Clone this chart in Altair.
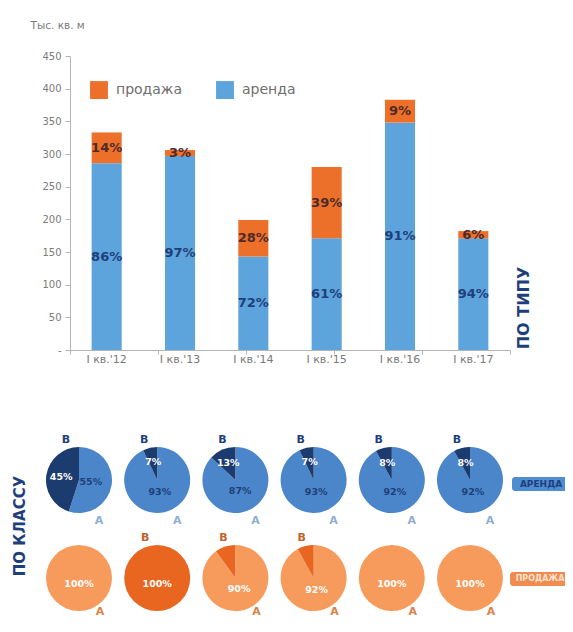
import math
import altair as alt
import pandas as pd

# ---------------- data ----------------
categories = ["I кв.'12", "I кв.'13", "I кв.'14", "I кв.'15", "I кв.'16", "I кв.'17"]
rent = [286, 297, 143, 171, 348, 171]          # тыс. кв. м, аренда
sale = [47, 9, 56, 109, 35, 11]                # тыс. кв. м, продажа
rent_pct = [86, 97, 72, 61, 91, 94]
sale_pct = [14, 3, 28, 39, 9, 6]

class_b_rent = [45, 7, 13, 7, 8, 8]            # доля класса В, аренда
class_b_sale = [0, 100, 10, 8, 0, 0]           # доля класса В, продажа

y_ticks = [0, 50, 100, 150, 200, 250, 300, 350, 400, 450]

FONT = "DejaVu Sans"
NAVY = "#1f3f7a"
GRAY = "#7a7a7a"
AXIS = "#b5b5b5"

# ---------------- tables ----------------
bar_rows = []
for i, c in enumerate(categories):
    bar_rows.append({"cat": c, "series": "аренда", "value": rent[i], "pct": f"{rent_pct[i]}%", "ord": 0})
    bar_rows.append({"cat": c, "series": "продажа", "value": sale[i], "pct": f"{sale_pct[i]}%", "ord": 1})
bars_df = pd.DataFrame(bar_rows)

pie_rows = []
for i in range(len(categories)):
    for r, (rname, bvals) in enumerate([("rent", class_b_rent), ("sale", class_b_sale)]):
        b = bvals[i]
        a = 100 - b
        if a > 0:
            pie_rows.append({"col": i, "row": r, "kind": rname, "cls": "А", "key": f"{rname}-A",
                             "pct": a, "start": 0, "end": a, "mid": a / 2, "lbl": f"{a}%"})
        if b > 0:
            pie_rows.append({"col": i, "row": r, "kind": rname, "cls": "В", "key": f"{rname}-B",
                             "pct": b, "start": a, "end": 100, "mid": a + b / 2, "lbl": f"{b}%"})
pie_df = pd.DataFrame(pie_rows)

# ---------------- top: stacked bars ----------------
base = alt.Chart(bars_df).transform_stack(
    stack="value", as_=["y0", "y1"], groupby=["cat"],
    sort=[alt.SortField("ord", order="ascending")]
).transform_calculate(mid="(datum.y0 + datum.y1) / 2")

xenc = alt.X("cat:N", sort=categories,
             scale=alt.Scale(paddingInner=0.59, paddingOuter=0.295),
             axis=alt.Axis(title=None, labelAngle=0, labelFontSize=11, labelColor=GRAY,
                           labelFont=FONT, domainColor=AXIS, ticks=False, labelPadding=3))

yscale = alt.Scale(domain=[0, 450], nice=False)
yaxis = alt.Axis(values=y_ticks, tickCount=10, grid=False, labelFontSize=10, labelColor=GRAY,
                 labelFont=FONT, domainColor=AXIS, tickColor=AXIS,
                 tickSize=5, labelPadding=4, labelOverlap=False,
                 labelExpr="datum.value == 0 ? '-' : datum.label",
                 title="Тыс. кв. м", titleAngle=0, titleAlign="left",
                 titleBaseline="middle", titleX=-40, titleY=-31,
                 titleFontSize=10.5, titleFontWeight="normal",
                 titleColor=GRAY, titleFont=FONT)

bars = base.mark_bar().encode(
    x=xenc,
    y=alt.Y("y0:Q", scale=yscale, axis=yaxis),
    y2="y1:Q",
    color=alt.Color("series:N",
                    scale=alt.Scale(domain=["продажа", "аренда"], range=["#ed702a", "#5da3dc"]),
                    legend=alt.Legend(orient="none", legendX=20, legendY=25, direction="horizontal",
                                      title=None, symbolType="square", symbolSize=320,
                                      symbolStrokeWidth=0, labelFontSize=14, labelColor="#6e6e6e",
                                      labelFont=FONT, labelOffset=8, columnPadding=33)),
)

txt_rent = base.transform_filter("datum.series == 'аренда'").mark_text(
    font=FONT, fontSize=13, fontWeight="bold", color=NAVY, baseline="middle"
).encode(x=xenc, y=alt.Y("mid:Q", scale=yscale, axis=yaxis), text="pct:N")

txt_sale = base.transform_filter("datum.series == 'продажа'").mark_text(
    font=FONT, fontSize=13, fontWeight="bold", color="#4e2a2a", baseline="middle"
).encode(x=xenc, y=alt.Y("mid:Q", scale=yscale, axis=yaxis), text="pct:N")

top = alt.layer(bars, txt_rent, txt_sale)

# category-boundary ticks on the x axis
xticks = alt.Chart(bars_df).mark_point(opacity=0).encode(
    x=alt.X("cat:N", sort=categories, scale=alt.Scale(padding=0),
            axis=alt.Axis(orient="bottom", bandPosition=0, labels=False, domain=False,
                          ticks=True, tickSize=4, tickColor=AXIS, title=None, grid=False))
)

# ---------------- bottom: pies ----------------
px = alt.X("col:Q", scale=alt.Scale(domain=[0, 5], range=[9, 400], nice=False, zero=False), axis=None)
py = alt.Y("row:Q", scale=alt.Scale(domain=[0, 1], range=[424, 522], nice=False, zero=False), axis=None)
tscale = alt.Scale(domain=[0, 100], range=[0, 2 * math.pi])

pbase = alt.Chart(pie_df)

arcs = pbase.mark_arc(radius=33).encode(
    x=px, y=py,
    theta=alt.Theta("start:Q", scale=tscale),
    theta2="end:Q",
    color=alt.Color("key:N",
                    scale=alt.Scale(domain=["rent-A", "rent-B", "sale-A", "sale-B"],
                                    range=["#4a86c9", "#1c3b6e", "#f79b5d", "#e8661f"]),
                    legend=None),
)

lbase = pbase.transform_calculate(
    lr="datum.pct >= 100 ? 6 : (datum.pct >= 50 ? 12 : 18)"
)


def pie_labels(flt, color):
    return lbase.transform_filter(flt).mark_text(
        font=FONT, fontSize=9.5, fontWeight="bold", color=color, baseline="middle", align="center"
    ).encode(x=px, y=py, theta=alt.Theta("mid:Q", scale=tscale),
             radius=alt.Radius("lr:Q", scale=None), text="lbl:N")


lbl_rent_b = pie_labels("datum.key == 'rent-B'", "white")
lbl_rent_a = pie_labels("datum.key == 'rent-A'", NAVY)
lbl_sale = pie_labels("datum.key == 'sale-A' || datum.pct == 100", "white")


def letters(flt, color, dx, dy):
    return pbase.transform_filter(flt).mark_text(
        font=FONT, fontSize=11, fontWeight="bold", color=color, dx=dx, dy=dy,
        baseline="middle", align="center"
    ).encode(x=px, y=py, text="cls:N")


let_rb = letters("datum.key == 'rent-B'", NAVY, -13, -40)
let_ra = letters("datum.key == 'rent-A'", "#8eaed3", 20, 41)
let_sb = letters("datum.key == 'sale-B'", "#c2612c", -12, -40)
let_sa = letters("datum.key == 'sale-A'", "#d9834b", 21, 34)

bottom = alt.layer(arcs, lbl_rent_b, lbl_rent_a, lbl_sale, let_rb, let_ra, let_sb, let_sa)

# ---------------- annotations ----------------
one = pd.DataFrame({"t": ["x"]})

po_tipu = alt.Chart(pd.DataFrame({"t": ["ПО ТИПУ"]})).mark_text(
    font=FONT, fontSize=16, fontWeight="bold", color=NAVY, angle=270,
    align="center", baseline="middle"
).encode(text="t:N", x=alt.value(454), y=alt.value(252))

po_klassu = alt.Chart(pd.DataFrame({"t": ["ПО КЛАССУ"]})).mark_text(
    font=FONT, fontSize=15, fontWeight="bold", color=NAVY, angle=270,
    align="center", baseline="middle"
).encode(text="t:N", x=alt.value(-50), y=alt.value(470))

tag_rent_box = alt.Chart(one).mark_rect(color="#4d8dd2", cornerRadius=3).encode(
    x=alt.value(442), x2=alt.value(500), y=alt.value(421), y2=alt.value(435))
tag_rent_txt = alt.Chart(pd.DataFrame({"t": ["АРЕНДА"]})).mark_text(
    font=FONT, fontSize=9, fontWeight="bold", color=NAVY, align="center", baseline="middle"
).encode(text="t:N", x=alt.value(471), y=alt.value(428))

tag_sale_box = alt.Chart(one).mark_rect(color="#f08c50", cornerRadius=3).encode(
    x=alt.value(440), x2=alt.value(500), y=alt.value(516), y2=alt.value(530))
tag_sale_txt = alt.Chart(pd.DataFrame({"t": ["ПРОДАЖА"]})).mark_text(
    font=FONT, fontSize=8, fontWeight="bold", color="#fde3cf", align="center", baseline="middle"
).encode(text="t:N", x=alt.value(470), y=alt.value(523))

chart = alt.layer(
    top, xticks, bottom, po_tipu, po_klassu, tag_rent_box, tag_rent_txt, tag_sale_box, tag_sale_txt
).resolve_scale(
    x="independent", y="independent", color="independent"
).properties(
    width=440, height=294,
    autosize=alt.AutoSizeParams(type="none"),
    padding={"left": 62, "top": 48, "right": 55, "bottom": 268},
    background="white",
).configure(font=FONT).configure_view(stroke=None)

chart.save("out.html", embed_options={"renderer": "svg", "actions": False})
